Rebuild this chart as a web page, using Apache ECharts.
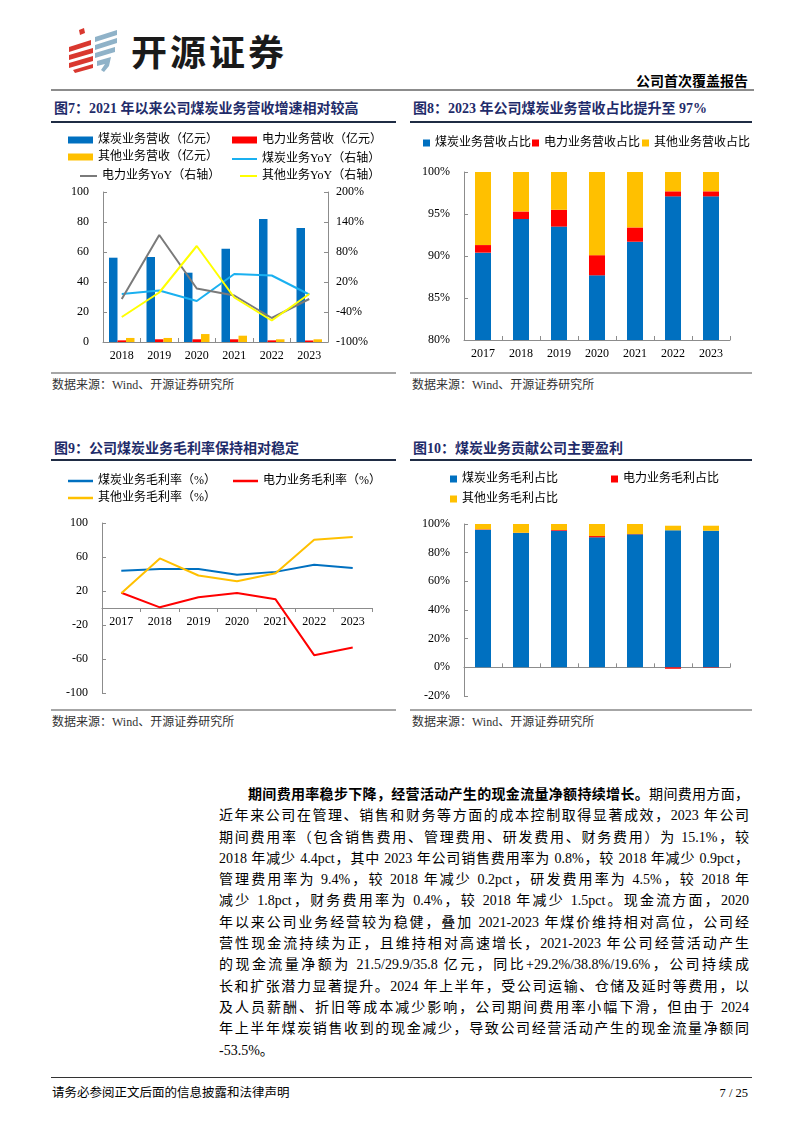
<!DOCTYPE html>
<html>
<head>
<meta charset="utf-8">
<script src="https://cdn.jsdelivr.net/npm/echarts@6/dist/echarts.min.js"></script>
<style>
  body { margin: 0; background: #fff; }
  #page { position: relative; width: 802px; height: 1133px; overflow: hidden; background: #fff;
          font-family: "Liberation Serif", "Noto Sans CJK SC", serif; color: #000; }
  .abs { position: absolute; }
  .brand { left: 131px; top: 28px; font-family: "Noto Sans CJK SC", sans-serif; font-weight: 700;
           font-size: 36px; line-height: 44px; letter-spacing: 3px; color: #1a1a1a; }
  .rtype { right: 54px; top: 73px; font-size: 14px; font-weight: 700; line-height: 18px; }
  .hline { height: 2px; background: #8c8c8c; }
  .title { font-size: 14px; font-weight: 700; color: #1f2c6a; line-height: 18px; }
  .tline { height: 2px; background: #1f2c44; }
  .sline { height: 2px; background: #a6a6a6; }
  .src { font-size: 12px; color: #333; line-height: 14px; }
  .chart { position: absolute; }
  .para { left: 219px; width: 530px; top: 784px; font-size: 14px; }
  .ln { height: 21.3px; line-height: 21.3px; white-space: nowrap; text-align: justify; text-align-last: justify; }
  .ln.last { text-align-last: left; }
  .foot { font-size: 12.5px; line-height: 16px; }
</style>
</head>
<body>
<div id="page">
  <!-- header -->
  <svg class="abs" style="left:0;top:0" width="130" height="80">
    <g fill="#d9382f">
      <polygon points="79,30 84,28 85,33 80,35"/>
      <polygon points="69,47 91,40 91,45 69,52"/>
      <polygon points="69,55 93,48 93,53 69,60"/>
      <polygon points="69,63 93,56 93,61 69,68"/>
      <polygon points="73,70 93,64 93,68 75,73"/>
    </g>
    <g fill="#8fb2c8">
      <polygon points="95,37 117,30 117,35 95,42"/>
      <polygon points="95,45 117,38 117,43 95,50"/>
      <polygon points="95,53 115,47 115,52 95,58"/>
      <polygon points="97,61 111,57 109,66 104,72 101,70 105,64 97,66"/>
    </g>
  </svg>
  <div class="abs brand">开源证券</div>
  <div class="abs rtype">公司首次覆盖报告</div>
  <div class="abs hline" style="left:51px;top:89px;width:703px;"></div>

  <!-- row 1 titles -->
  <div class="abs title" style="left:54px;top:100px;">图7：2021 年以来公司煤炭业务营收增速相对较高</div>
  <div class="abs title" style="left:413px;top:100px;">图8：2023 年公司煤炭业务营收占比提升至 97%</div>
  <div class="abs tline" style="left:51px;top:121px;width:345px;"></div>
  <div class="abs tline" style="left:410px;top:121px;width:342px;"></div>

  <div id="c7" class="chart" style="left:50px;top:125px;width:350px;height:240px;"></div>
  <div id="c8" class="chart" style="left:405px;top:125px;width:360px;height:240px;"></div>

  <div class="abs sline" style="left:51px;top:372px;width:345px;"></div>
  <div class="abs sline" style="left:410px;top:372px;width:342px;"></div>
  <div class="abs src" style="left:52px;top:378px;">数据来源：Wind、开源证券研究所</div>
  <div class="abs src" style="left:412px;top:378px;">数据来源：Wind、开源证券研究所</div>

  <!-- row 2 titles -->
  <div class="abs title" style="left:54px;top:440px;">图9：公司煤炭业务毛利率保持相对稳定</div>
  <div class="abs title" style="left:413px;top:440px;">图10：煤炭业务贡献公司主要盈利</div>
  <div class="abs tline" style="left:51px;top:459px;width:345px;"></div>
  <div class="abs tline" style="left:410px;top:459px;width:342px;"></div>

  <div id="c9" class="chart" style="left:50px;top:465px;width:350px;height:240px;"></div>
  <div id="c10" class="chart" style="left:405px;top:465px;width:360px;height:240px;"></div>

  <div class="abs sline" style="left:51px;top:709px;width:345px;"></div>
  <div class="abs sline" style="left:410px;top:709px;width:342px;"></div>
  <div class="abs src" style="left:52px;top:715px;">数据来源：Wind、开源证券研究所</div>
  <div class="abs src" style="left:412px;top:715px;">数据来源：Wind、开源证券研究所</div>

  <!-- body text -->
  <div class="abs para">
    <div class="ln" style="padding-left:29px;"><b>期间费用率稳步下降，经营活动产生的现金流量净额持续增长。</b>期间费用方面，</div>
    <div class="ln">近年来公司在管理、销售和财务等方面的成本控制取得显著成效，2023 年公司</div>
    <div class="ln">期间费用率（包含销售费用、管理费用、研发费用、财务费用）为 15.1%，较</div>
    <div class="ln">2018 年减少 4.4pct，其中 2023 年公司销售费用率为 0.8%，较 2018 年减少 0.9pct，</div>
    <div class="ln">管理费用率为 9.4%，较 2018 年减少 0.2pct，研发费用率为 4.5%，较 2018 年</div>
    <div class="ln">减少 1.8pct，财务费用率为 0.4%，较 2018 年减少 1.5pct。现金流方面，2020</div>
    <div class="ln">年以来公司业务经营较为稳健，叠加 2021-2023 年煤价维持相对高位，公司经</div>
    <div class="ln">营性现金流持续为正，且维持相对高速增长，2021-2023 年公司经营活动产生</div>
    <div class="ln">的现金流量净额为 21.5/29.9/35.8 亿元，同比+29.2%/38.8%/19.6%，公司持续成</div>
    <div class="ln">长和扩张潜力显著提升。2024 年上半年，受公司运输、仓储及延时等费用，以</div>
    <div class="ln">及人员薪酬、折旧等成本减少影响，公司期间费用率小幅下滑，但由于 2024</div>
    <div class="ln">年上半年煤炭销售收到的现金减少，导致公司经营活动产生的现金流量净额同</div>
    <div class="ln last">-53.5%。</div>
  </div>

  <div class="abs" style="left:51px;top:1077px;width:701px;height:1px;background:#333;"></div>
  <div class="abs foot" style="left:52px;top:1085px;">请务必参阅正文后面的信息披露和法律声明</div>
  <div class="abs foot" style="right:54px;top:1085px;">7 / 25</div>
</div>

<script>
// ---- data ----
const years6 = ['2018', '2019', '2020', '2021', '2022', '2023'];
const years7 = ['2017', '2018', '2019', '2020', '2021', '2022', '2023'];

// 图7 营收（亿元）与 YoY（%）
const coalRev = [56.2, 56.7, 46.2, 62.2, 82.0, 76.0];
const powerRev = [1.1, 1.8, 1.8, 1.8, 1.1, 1.0];
const otherRev = [2.7, 2.7, 5.3, 4.2, 1.8, 1.8];
const coalYoY = [-4, 3, -18, 36, 33, -5];
const powerYoY = [-14, 114, 7, -7, -52, -14];
const otherYoY = [-50, -1, 92, -11, -57, -4];

// 图8 营收占比（%）
const coalShare = [90.4, 94.4, 93.5, 87.7, 91.7, 97.1, 97.1];
const powerShare = [0.9, 0.9, 2.0, 2.4, 1.7, 0.6, 0.6];
const otherShare = [8.7, 4.7, 4.5, 9.9, 6.6, 2.3, 2.3];

// 图9 毛利率（%）
const coalGm = [43.7, 46, 46, 39, 42.5, 51, 47];
const powerGm = [18, 0.8, 12.6, 17.7, 10.2, -55.5, -46.5];
const otherGm = [17.3, 58.3, 38.2, 31.5, 41, 80.3, 83.5];

// 图10 毛利占比（%）
const coalGp = [96, 93.7, 95.3, 90.7, 92.8, 95.6, 95.3];
const powerGp = [0.3, 0.2, 0.5, 0.9, 0.2, -1.0, -0.3];
const otherGp = [3.7, 6.1, 4.2, 8.4, 7.0, 3.2, 3.5];

// ---- styles ----
const FONT = '"Liberation Serif", "Noto Sans CJK SC", serif';
const BLUE = '#0070c0', RED = '#ff0000', ORANGE = '#ffc000';
const SKY = '#1ab0f0', GRAY = '#7a7a7a', YELLOW = '#ffff00';
const AXIS = '#8c8c8c';

const axisLine = { show: true, onZero: false, lineStyle: { color: AXIS, width: 1 } };
const labelStyle = { color: '#000', fontSize: 12, fontFamily: FONT };

// one legend component per item, so each can sit where the reference puts it
function legendItem(name, left, top, w, h) {
  return {
    data: [{ name: name, icon: 'rect' }],
    left: left, top: top, padding: 0,
    itemWidth: w, itemHeight: h, itemGap: 0,
    textStyle: { color: '#000', fontSize: 12, fontFamily: FONT, padding: [0, 0, 0, 0] }
  };
}

// 图7
const c7 = echarts.init(document.getElementById('c7'));
c7.setOption({
  animation: false,
  textStyle: { fontFamily: FONT },
  legend: [
    legendItem('煤炭业务营收（亿元）', 18, 9, 25, 7),
    legendItem('电力业务营收（亿元）', 182, 9, 25, 7),
    legendItem('其他业务营收（亿元）', 18, 26, 25, 7),
    legendItem('煤炭业务YoY（右轴）', 182, 28, 25, 2),
    legendItem('电力业务YoY（右轴）', 30, 45, 17, 2),
    legendItem('其他业务YoY（右轴）', 190, 45, 17, 2)
  ],
  grid: { left: 53, right: 72, top: 67, height: 150, outerBoundsMode: 'none' },
  xAxis: {
    type: 'category', data: years6,
    axisLine: axisLine,
    axisTick: { show: true, inside: true, length: 4, lineStyle: { color: AXIS } },
    axisLabel: Object.assign({ margin: 8 }, labelStyle)
  },
  yAxis: [
    {
      type: 'value', min: 0, max: 100, interval: 20,
      axisLine: axisLine, splitLine: { show: false },
      axisTick: { show: true, inside: true, length: 4, lineStyle: { color: AXIS } },
      axisLabel: Object.assign({ margin: 14 }, labelStyle)
    },
    {
      type: 'value', min: -100, max: 200, interval: 60, position: 'right',
      axisLine: axisLine, splitLine: { show: false },
      axisTick: { show: true, inside: true, length: 4, lineStyle: { color: AXIS } },
      axisLabel: Object.assign({ margin: 8, formatter: '{value}%' }, labelStyle)
    }
  ],
  series: [
    { name: '煤炭业务营收（亿元）', type: 'bar', data: coalRev, barWidth: 8.5, barGap: '0%', itemStyle: { color: BLUE } },
    { name: '电力业务营收（亿元）', type: 'bar', data: powerRev, barWidth: 8.5, barGap: '0%', itemStyle: { color: RED } },
    { name: '其他业务营收（亿元）', type: 'bar', data: otherRev, barWidth: 8.5, barGap: '0%', itemStyle: { color: ORANGE } },
    { name: '煤炭业务YoY（右轴）', type: 'line', yAxisIndex: 1, data: coalYoY, symbol: 'none', itemStyle: { color: SKY }, lineStyle: { color: SKY, width: 2 } },
    { name: '电力业务YoY（右轴）', type: 'line', yAxisIndex: 1, data: powerYoY, symbol: 'none', itemStyle: { color: GRAY }, lineStyle: { color: GRAY, width: 2 } },
    { name: '其他业务YoY（右轴）', type: 'line', yAxisIndex: 1, data: otherYoY, symbol: 'none', itemStyle: { color: YELLOW }, lineStyle: { color: YELLOW, width: 2 } }
  ]
});

// 图8
const c8 = echarts.init(document.getElementById('c8'));
c8.setOption({
  animation: false,
  textStyle: { fontFamily: FONT },
  legend: [
    legendItem('煤炭业务营收占比', 18, 12, 7, 7),
    legendItem('电力业务营收占比', 127, 12, 7, 7),
    legendItem('其他业务营收占比', 237, 12, 7, 7)
  ],
  grid: { left: 59, right: 35, top: 47, height: 168, outerBoundsMode: 'none' },
  xAxis: {
    type: 'category', data: years7,
    axisLine: axisLine,
    axisTick: { show: true, inside: true, length: 4, lineStyle: { color: AXIS } },
    axisLabel: Object.assign({ margin: 8 }, labelStyle)
  },
  yAxis: {
    type: 'value', min: 80, max: 100, interval: 5,
    axisLine: axisLine, splitLine: { show: false },
    axisTick: { show: true, inside: true, length: 4, lineStyle: { color: AXIS } },
    axisLabel: Object.assign({ margin: 14, formatter: '{value}%' }, labelStyle)
  },
  series: [
    { name: '煤炭业务营收占比', type: 'bar', stack: 's', data: coalShare, barWidth: 16, itemStyle: { color: BLUE } },
    { name: '电力业务营收占比', type: 'bar', stack: 's', data: powerShare, barWidth: 16, itemStyle: { color: RED } },
    { name: '其他业务营收占比', type: 'bar', stack: 's', data: otherShare, barWidth: 16, itemStyle: { color: ORANGE } }
  ]
});

// 图9 — x axis sits on the zero line (half of the 170px grid height up from the bottom)
const c9 = echarts.init(document.getElementById('c9'));
c9.setOption({
  animation: false,
  textStyle: { fontFamily: FONT },
  legend: [
    legendItem('煤炭业务毛利率（%）', 18, 10, 25, 2.5),
    legendItem('电力业务毛利率（%）', 183, 10, 25, 2.5),
    legendItem('其他业务毛利率（%）', 18, 27, 25, 2.5)
  ],
  grid: { left: 52, right: 28, top: 58, height: 170, outerBoundsMode: 'none' },
  xAxis: {
    type: 'category', data: years7, offset: -85,
    axisLine: { show: true, onZero: false, lineStyle: { color: AXIS, width: 1 } },
    axisTick: { show: true, length: 4, lineStyle: { color: AXIS } },
    axisLabel: Object.assign({ margin: 8 }, labelStyle)
  },
  yAxis: {
    type: 'value', min: -100, max: 100, interval: 40,
    axisLine: axisLine, splitLine: { show: false },
    axisTick: { show: true, inside: true, length: 4, lineStyle: { color: AXIS } },
    axisLabel: Object.assign({ margin: 14 }, labelStyle)
  },
  series: [
    { name: '煤炭业务毛利率（%）', type: 'line', data: coalGm, symbol: 'none', itemStyle: { color: BLUE }, lineStyle: { color: BLUE, width: 2 } },
    { name: '电力业务毛利率（%）', type: 'line', data: powerGm, symbol: 'none', itemStyle: { color: RED }, lineStyle: { color: RED, width: 2 } },
    { name: '其他业务毛利率（%）', type: 'line', data: otherGm, symbol: 'none', itemStyle: { color: ORANGE }, lineStyle: { color: ORANGE, width: 2 } }
  ]
});

// 图10
const c10 = echarts.init(document.getElementById('c10'));
c10.setOption({
  animation: false,
  textStyle: { fontFamily: FONT },
  legend: [
    legendItem('煤炭业务毛利占比', 45, 8, 7, 7),
    legendItem('电力业务毛利占比', 206, 8, 7, 7),
    legendItem('其他业务毛利占比', 45, 28, 7, 7)
  ],
  grid: { left: 59, right: 35, top: 59, height: 172, outerBoundsMode: 'none' },
  xAxis: {
    type: 'category', data: years7,
    axisLine: { show: true, onZero: true, lineStyle: { color: AXIS, width: 1 } },
    axisTick: { show: true, inside: true, length: 4, lineStyle: { color: AXIS } },
    axisLabel: Object.assign({ margin: 8 }, labelStyle)
  },
  yAxis: {
    type: 'value', min: -20, max: 100, interval: 20,
    axisLine: axisLine, splitLine: { show: false },
    axisTick: { show: true, inside: true, length: 4, lineStyle: { color: AXIS } },
    axisLabel: Object.assign({ margin: 14, formatter: '{value}%' }, labelStyle)
  },
  series: [
    { name: '煤炭业务毛利占比', type: 'bar', stack: 'g', data: coalGp, barWidth: 16, itemStyle: { color: BLUE } },
    { name: '电力业务毛利占比', type: 'bar', stack: 'g', data: powerGp, barWidth: 16, itemStyle: { color: RED } },
    { name: '其他业务毛利占比', type: 'bar', stack: 'g', data: otherGp, barWidth: 16, itemStyle: { color: ORANGE } }
  ]
});
</script>
</body>
</html>
